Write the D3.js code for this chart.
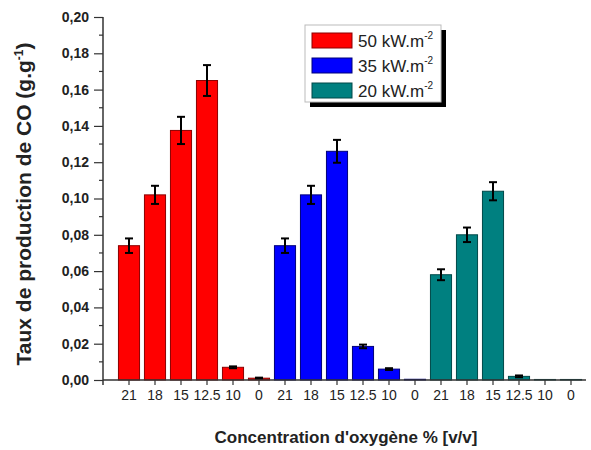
<!DOCTYPE html>
<html lang="fr">
<head>
<meta charset="UTF-8">
<title>Taux de production de CO</title>
<style>
    body { margin: 0; background: #fff; font-family: Arial, "Liberation Sans", sans-serif; }
    svg { display: block; }
    .ytick text { font-weight: bold; font-size: 14px; fill: #222; }
    .xtick text { font-size: 14px; fill: #222; }
    .title { font-weight: bold; fill: #222; }
</style>
</head>
<body>
<svg id="chart" width="591" height="450"></svg>
<script src="https://d3js.org/d3.v7.min.js"></script>
<script>
// data
const oxygen = ["21", "18", "15", "12.5", "10", "0"];
const series = ["50 kW.m", "35 kW.m", "20 kW.m"];
const colors = ["#ff0000", "#0000ff", "#008080"];
const edges = ["#8b0000", "#00007a", "#004848"];
const co50 = [0.074, 0.102, 0.1375, 0.165, 0.007, 0.001];
const co35 = [0.074, 0.102, 0.126, 0.0185, 0.006, 0.0004];
const co20 = [0.058, 0.080, 0.104, 0.002, 0.0003, 0.0003];
const err50 = [0.004, 0.005, 0.0075, 0.0085, 0.0005, 0.0003];
const err35 = [0.004, 0.005, 0.0063, 0.001, 0.0005, 0];
const err20 = [0.003, 0.004, 0.005, 0.0005, 0, 0];
const yTicks = [0, 0.02, 0.04, 0.06, 0.08, 0.10, 0.12, 0.14, 0.16, 0.18, 0.20];

const values = [co50, co35, co20];
const errors = [err50, err35, err20];

// flatten into 18 bars
const bars = [];
values.forEach((vals, s) => {
    vals.forEach((v, i) => {
        bars.push({ key: s * 6 + i, label: oxygen[i], s: s, v: v, e: errors[s][i] });
    });
});

const svg = d3.select("#chart");
const x0 = 103, xEnd = 586;

const x = d3.scaleBand()
    .domain(bars.map(d => d.key))
    .range([116, 584])
    .paddingInner(0.15)
    .paddingOuter(0.075);

const y = d3.scaleLinear().domain([0, 0.20]).range([380, 17]);

// bars
svg.append("g").selectAll("rect")
    .data(bars)
    .enter().append("rect")
    .attr("x", d => x(d.key) + 0.5)
    .attr("y", d => y(d.v))
    .attr("width", x.bandwidth() - 1)
    .attr("height", d => y(0) - y(d.v))
    .attr("fill", d => colors[d.s])
    .attr("stroke", d => edges[d.s])
    .attr("stroke-width", 1);

// error bars
const eb = svg.append("g").attr("stroke", "#000").attr("stroke-width", 2);
bars.filter(d => d.e > 0).forEach(d => {
    const cx = x(d.key) + x.bandwidth() / 2;
    eb.append("line").attr("x1", cx).attr("x2", cx).attr("y1", y(d.v + d.e)).attr("y2", y(d.v - d.e));
    eb.append("line").attr("x1", cx - 4).attr("x2", cx + 4).attr("y1", y(d.v + d.e)).attr("y2", y(d.v + d.e));
    eb.append("line").attr("x1", cx - 4).attr("x2", cx + 4).attr("y1", y(d.v - d.e)).attr("y2", y(d.v - d.e));
});

// y axis
const yAxis = d3.axisLeft(y)
    .tickValues(yTicks)
    .tickSize(9)
    .tickPadding(5)
    .tickFormat(d => d3.format(".2f")(d).replace(".", ","));
const gy = svg.append("g").attr("transform", "translate(" + x0 + ",0)").call(yAxis);
gy.selectAll(".tick").attr("class", "tick ytick");
gy.selectAll("text").attr("font-family", null).attr("font-size", null);
gy.select(".domain").remove();
gy.selectAll("line").attr("stroke", "#333").attr("stroke-width", 1.2);

// minor ticks
svg.append("g").selectAll("line")
    .data(d3.range(0.01, 0.2, 0.02))
    .enter().append("line")
    .attr("x1", x0 - 4).attr("x2", x0)
    .attr("y1", d => y(d)).attr("y2", d => y(d))
    .attr("stroke", "#333").attr("stroke-width", 1.2);

svg.append("line")
    .attr("x1", x0).attr("x2", x0).attr("y1", y(0.20)).attr("y2", y(0) + 5)
    .attr("stroke", "#333").attr("stroke-width", 1.5);

// x axis
const xAxis = d3.axisBottom(x)
    .tickSize(5)
    .tickPadding(5)
    .tickFormat(k => bars[k].label);
const gx = svg.append("g").attr("transform", "translate(0," + y(0) + ")").call(xAxis);
gx.selectAll(".tick").attr("class", "tick xtick");
gx.selectAll("text").attr("font-family", null).attr("font-size", null);
gx.select(".domain").remove();
gx.selectAll("line").attr("stroke", "#333").attr("stroke-width", 1.2);

svg.append("line")
    .attr("x1", x0).attr("x2", xEnd).attr("y1", y(0)).attr("y2", y(0))
    .attr("stroke", "#333").attr("stroke-width", 1.5);

// axis titles
const yt = svg.append("text")
    .attr("class", "title")
    .attr("font-size", 21)
    .attr("text-anchor", "middle")
    .attr("transform", "translate(31,204) rotate(-90)")
    .text("Taux de production de CO (g.g");
yt.append("tspan").attr("dy", -8).attr("font-size", 12).text("-1");
yt.append("tspan").attr("dy", 8).text(")");

svg.append("text")
    .attr("class", "title")
    .attr("font-size", 17)
    .attr("x", 346).attr("y", 443)
    .attr("text-anchor", "middle")
    .text("Concentration d'oxygène % [v/v]");

// legend
const lg = svg.append("g").attr("transform", "translate(305,25)");
lg.append("rect").attr("x", 5).attr("y", 5).attr("width", 136).attr("height", 77).attr("fill", "#000");
lg.append("rect").attr("x", 0).attr("y", 0).attr("width", 136).attr("height", 77)
    .attr("fill", "#fff").attr("stroke", "#bbb").attr("stroke-width", 1);
series.forEach((name, i) => {
    const row = lg.append("g").attr("transform", "translate(0," + (8 + i * 25) + ")");
    row.append("rect").attr("x", 7).attr("y", 0).attr("width", 40).attr("height", 15)
        .attr("fill", colors[i]).attr("stroke", edges[i]);
    const t = row.append("text").attr("x", 53).attr("y", 14)
        .attr("font-size", 17).attr("fill", "#222").text(name);
    t.append("tspan").attr("dy", -8).attr("font-size", 10).text("-2");
});
</script>
</body>
</html>
